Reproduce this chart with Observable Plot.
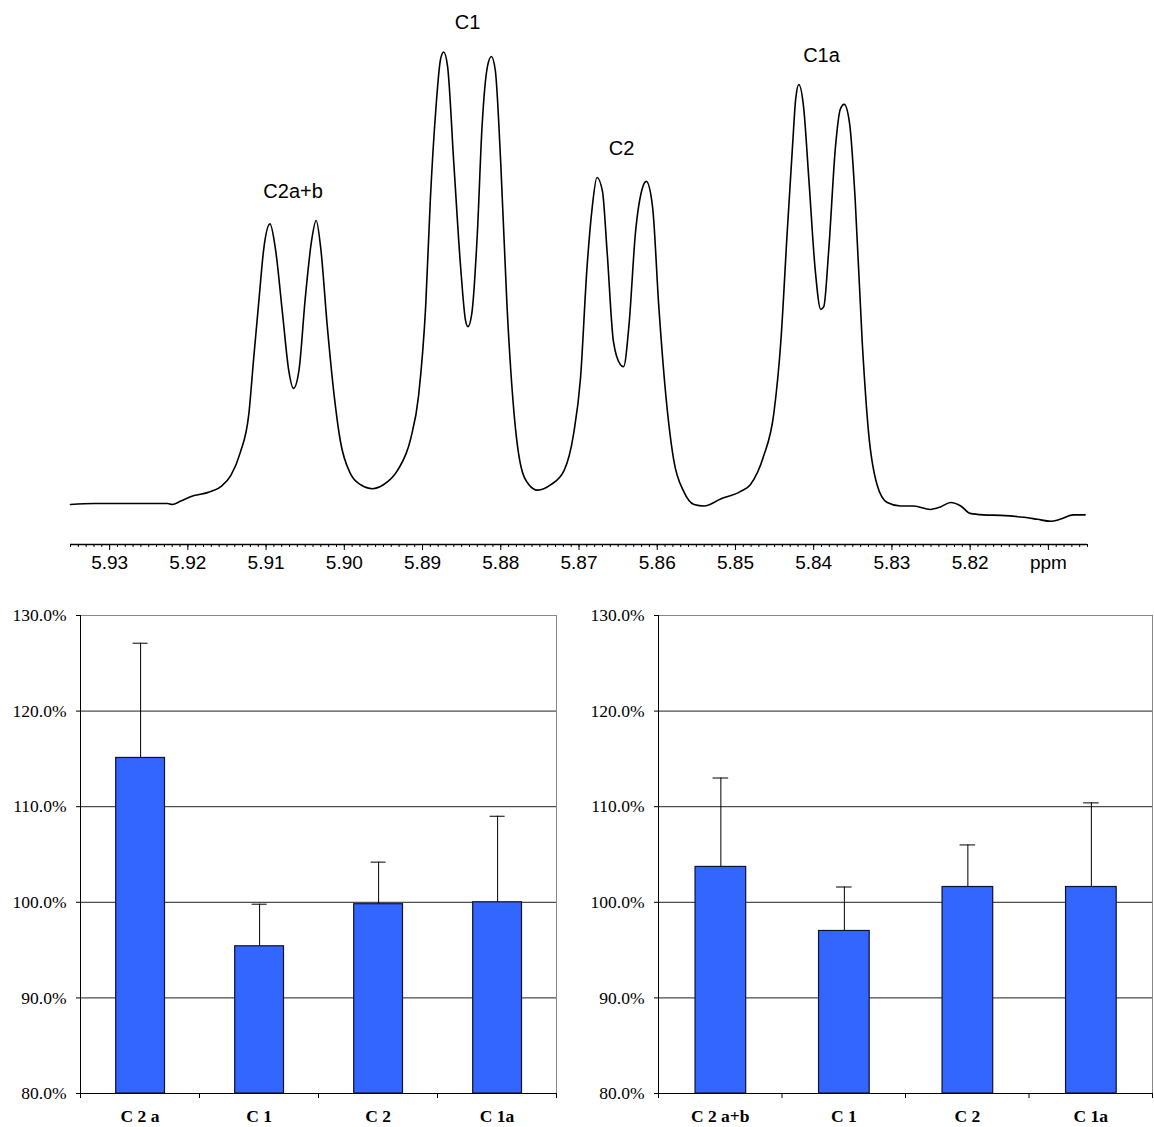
<!DOCTYPE html>
<html><head><meta charset="utf-8">
<script src="https://cdn.jsdelivr.net/npm/d3@7"></script>
<script src="https://cdn.jsdelivr.net/npm/@observablehq/plot@0.6"></script>
<style>
body{margin:0;background:#fff;}
#fig{width:1154px;}
#bottom{display:flex;}
svg{display:block;}
</style></head><body><div id="fig"><div id="top"></div><div id="bottom"><div id="left"></div><div id="right"></div></div></div>
<script>
// ---- NMR spectrum ----
const spectrumPpm = [5.9350,5.9320,5.9278,5.9226,5.9220,5.9209,5.9192,5.9175,5.9158,5.9145,5.9133,5.9122,5.9116,5.9109,5.9103,5.9095,5.9088,5.9079,5.9071,5.9065,5.9058,5.9050,5.9042,5.9036,5.9030,5.9022,5.9013,5.9005,5.8992,5.8979,5.8964,5.8950,5.8932,5.8915,5.8905,5.8896,5.8890,5.8883,5.8877,5.8873,5.8868,5.8860,5.8851,5.8845,5.8842,5.8837,5.8830,5.8824,5.8817,5.8812,5.8807,5.8800,5.8792,5.8783,5.8775,5.8764,5.8753,5.8736,5.8719,5.8707,5.8698,5.8690,5.8683,5.8677,5.8670,5.8664,5.8656,5.8647,5.8643,5.8636,5.8628,5.8619,5.8614,5.8606,5.8598,5.8589,5.8579,5.8566,5.8553,5.8540,5.8519,5.8494,5.8481,5.8464,5.8451,5.8442,5.8434,5.8427,5.8423,5.8419,5.8413,5.8406,5.8398,5.8391,5.8387,5.8381,5.8372,5.8366,5.8361,5.8354,5.8347,5.8338,5.8330,5.8319,5.8306,5.8289,5.8272,5.8251,5.8238,5.8225,5.8212,5.8200,5.8183,5.8161,5.8131,5.8114,5.8097,5.8085,5.8068,5.8053];
const spectrumIntensity = [8.1,8.3,8.3,8.3,8.1,8.8,9.9,10.5,11.7,14.0,18.6,26.5,37.4,49.7,59.8,64.9,59.8,46.8,35.2,31.6,35.2,49.7,61.3,65.6,59.8,44.6,30.2,20.9,14.3,12.1,11.3,12.1,15.0,21.5,30.2,48.2,69.9,88.1,98.2,99.7,96.8,77.1,55.5,45.3,44.1,46.8,62.8,84.4,96.8,98.8,96.0,77.1,48.2,26.5,16.4,12.1,11.0,12.1,15.0,22.3,33.8,55.5,68.4,74.3,71.5,59.1,41.1,36.4,36.0,44.6,62.8,72.1,73.5,68.4,48.2,30.2,17.2,10.7,8.1,7.8,9.2,10.7,12.1,17.9,26.5,41.1,62.8,80.8,90.2,93.1,88.7,73.5,55.5,47.6,48.2,59.1,80.8,88.1,89.1,85.1,69.9,41.1,22.9,12.1,8.5,7.8,7.8,7.1,7.6,8.5,7.8,6.3,6.0,5.9,5.5,5.1,4.7,5.1,6.0,6.0];
const peakNames = ["C2a+b","C1","C2","C1a"];
const peakPpm = [[5.9095,5.9036],[5.8873,5.8812],[5.8677,5.8614],[5.8419,5.8361]];
const peakHeight = [[64.9,65.6],[99.7,98.8],[74.3,73.5],[93.1,89.1]];
const ppmTicks = [5.93,5.92,5.91,5.90,5.89,5.88,5.87,5.86,5.85,5.84,5.83,5.82,5.81];

// ---- bar charts ----
const yTicks = [80,90,100,110,120,130];
const leftCategories = ["C 2 a","C 1","C 2","C 1a"];
const leftValues = [115.1,95.4,99.8,100.0];
const leftErrors = [12.0,4.4,4.4,9.0];
const rightCategories = ["C 2 a+b","C 1","C 2","C 1a"];
const rightValues = [103.7,97.0,101.6,101.6];
const rightErrors = [9.3,4.6,4.4,8.8];

const spec = spectrumPpm.map((p,i)=>({ppm:p, I:spectrumIntensity[i]}));
const peaks = peakNames.map((n,i)=>({name:n, ppm:d3.mean(peakPpm[i]), h:d3.max(peakHeight[i])}));
const minorTicks = d3.range(5805,5936).map(v=>v/1000);

const topChart = Plot.plot({
  width:1154, height:580, marginLeft:70, marginRight:67, marginTop:50, marginBottom:36,
  x:{domain:[5.935,5.805], label:null},
  y:{domain:[0,100], axis:null, label:null},
  style:{fontFamily:"'Liberation Sans', Arial, sans-serif", fontSize:"19px", color:"#000", background:"#fff", overflow:"visible"},
  marks:[
    Plot.ruleY([0],{stroke:"#000", strokeWidth:1.4}),
    Plot.axisX({ticks:minorTicks, tickSize:3, tickFormat:()=>"", stroke:"#000", label:null}),
    Plot.axisX({ticks:ppmTicks, tickSize:6, tickPadding:5, tickFormat:d=>d===5.81?"ppm":d.toFixed(2), fontSize:19, stroke:"#000", label:null}),
    Plot.line(spec,{x:"ppm", y:"I", curve:"monotone-x", stroke:"#000", strokeWidth:1.6}),
    Plot.text(peaks,{x:"ppm", y:"h", text:"name", dy:-29, fontSize:20, fill:"#000"})
  ]
});
document.getElementById("top").append(topChart);

function barChart(cats, vals, errs, o){
  const n = cats.length;
  const data = cats.map((c,i)=>({c, i, v:vals[i], e:errs[i]}));
  return Plot.plot({
    width:o.width, height:547, marginLeft:o.ml, marginRight:o.mr, marginTop:35, marginBottom:34,
    x:{domain:[0,n], label:null},
    y:{domain:[80,130], label:null},
    style:{fontFamily:"'Liberation Serif', 'Times New Roman', serif", fontSize:"17px", color:"#000", background:"#fff", overflow:"visible"},
    marks:[
      Plot.ruleY(yTicks.filter(t=>t>80 && t<130), {stroke:"#222", strokeWidth:1}),
      Plot.ruleY([130],{stroke:"#888"}),
      Plot.ruleX([n],{stroke:"#888"}),
      Plot.rect(data,{x1:d=>d.i+0.3, x2:d=>d.i+0.71, y1:80, y2:"v", fill:"#3366ff", stroke:"#101030", strokeWidth:1.2}),
      Plot.ruleX(data,{x:d=>d.i+0.505, y1:"v", y2:d=>d.v+d.e, stroke:"#000"}),
      Plot.ruleY(data,{y:d=>d.v+d.e, x1:d=>d.i+0.505-0.063, x2:d=>d.i+0.505+0.063, stroke:"#000"}),
      Plot.ruleY([80],{stroke:"#000"}),
      Plot.ruleX([0],{stroke:"#000"}),
      Plot.axisY({ticks:yTicks, tickSize:4, tickPadding:10, tickFormat:d=>d.toFixed(1)+"%", fontSize:17.5, label:null}),
      Plot.axisX({ticks:d3.range(n+1), tickSize:5, tickFormat:()=>"", label:null}),
      Plot.axisX({ticks:d3.range(n).map(i=>i+0.5), tickSize:0, tickPadding:16, tickFormat:t=>cats[Math.floor(t)], fontWeight:"bold", fontSize:17.5, label:null})
    ]
  });
}
document.getElementById("left").append(barChart(leftCategories, leftValues, leftErrors, {width:577, ml:80, mr:21}));
document.getElementById("right").append(barChart(rightCategories, rightValues, rightErrors, {width:577, ml:81, mr:2}));
</script></body></html>
